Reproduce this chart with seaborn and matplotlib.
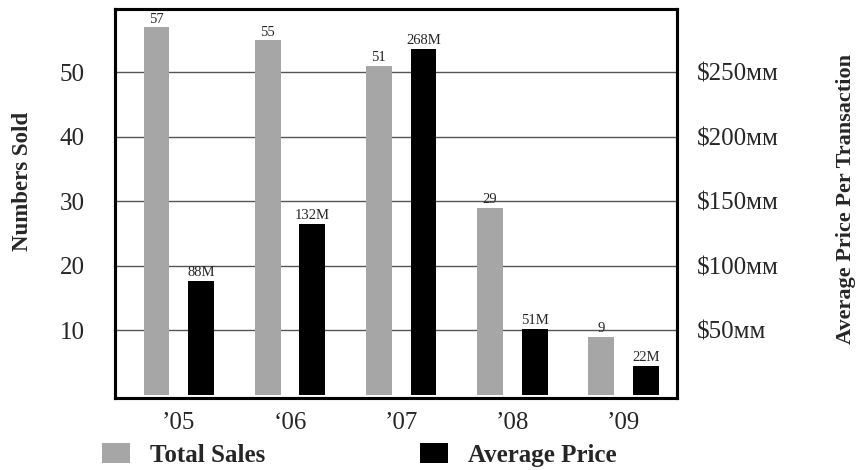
import matplotlib
matplotlib.use("Agg")
import matplotlib.pyplot as plt
from matplotlib.patches import Patch
from matplotlib.ticker import FuncFormatter, FixedLocator
import pandas as pd
import seaborn as sns

# Data
years = ["’05", "‘06", "’07", "’08", "’09"]
total_sales = [57, 55, 51, 29, 9]            # units sold
average_price = [88, 132, 268, 51, 22]        # $MM per transaction
series_names = ["Total Sales", "Average Price"]
sales_ticks = [10, 20, 30, 40, 50]
price_ticks = [50, 100, 150, 200, 250]

GRAY = "#a6a6a6"
BLACK = "#000000"
palette = {series_names[0]: GRAY, series_names[1]: BLACK}

sales_df = pd.DataFrame({"year": years, "value": total_sales, "series": series_names[0]})
price_df = pd.DataFrame({"year": years, "value": average_price, "series": series_names[1]})

sns.set_style("white")
plt.rcParams["font.family"] = ["Liberation Serif", "DejaVu Serif", "DejaVu Sans"]

fig = plt.figure(figsize=(8.6, 4.7), dpi=100)
ax = fig.add_axes([0.1337, 0.1532, 0.6535, 0.8277])
ax2 = ax.twinx()

common = dict(x="year", y="value", hue="series", hue_order=series_names,
              order=years, palette=palette, dodge=True, width=0.8, gap=0.42,
              errorbar=None, legend=False, saturation=1, linewidth=0)
sns.barplot(data=sales_df, ax=ax, **common)
sns.barplot(data=price_df, ax=ax2, **common)

# Value labels above bars
for c in ax.containers:
    ax.bar_label(c, fmt="{:.0f}", padding=1, fontsize=10.5, family="Liberation Serif")
for c in ax2.containers:
    ax2.bar_label(c, fmt="{:.0f}M", padding=1.5, fontsize=10.5, family="Liberation Serif")

# Scales: right axis is 5x the left axis
ymin, ymax = -0.5, 59.8
ax.set_ylim(ymin, ymax)
ax2.set_ylim(ymin * 5, ymax * 5)
ax.set_xlim(-0.573, 4.48)

ax.yaxis.set_major_locator(FixedLocator(sales_ticks))
ax2.yaxis.set_major_locator(FixedLocator(price_ticks))
ax2.yaxis.set_major_formatter(FuncFormatter(lambda v, p: f"${v:.0f}ᴍᴍ"))

ax.set_axisbelow(True)
ax.yaxis.grid(True, color="#555555", linewidth=1.0)
ax.xaxis.grid(False)
ax2.grid(False)

ax.tick_params(axis="y", length=0, pad=22, labelsize=18)
ax.tick_params(axis="x", length=0, pad=10, labelsize=18)
ax2.tick_params(axis="y", length=0, pad=14, labelsize=18)

ax.set_xlabel("")
ax.set_ylabel("")
ax2.set_ylabel("")

for a in (ax, ax2):
    for s in a.spines.values():
        s.set_color("black")
        s.set_linewidth(2.2)

fig.text(23 / 860, 1 - 181 / 470, "Numbers Sold", rotation=90, ha="center", va="center",
         fontsize=16.5, fontweight="bold")
fig.text(846 / 860, 1 - 199 / 470, "Average Price Per Transaction", rotation=90,
         ha="center", va="center", fontsize=16, fontweight="bold")

handles = [Patch(facecolor=GRAY, edgecolor="none"), Patch(facecolor=BLACK, edgecolor="none")]
fig.legend(handles, series_names, loc="center left", bbox_to_anchor=(102 / 860, 15 / 470),
           ncol=2, frameon=False, borderpad=0, borderaxespad=0,
           handlelength=1.12, handleheight=0.8, handletextpad=0.8, columnspacing=6.2,
           prop={"family": "Liberation Serif", "weight": "bold", "size": 18})

fig.savefig("out.png", dpi=100)
